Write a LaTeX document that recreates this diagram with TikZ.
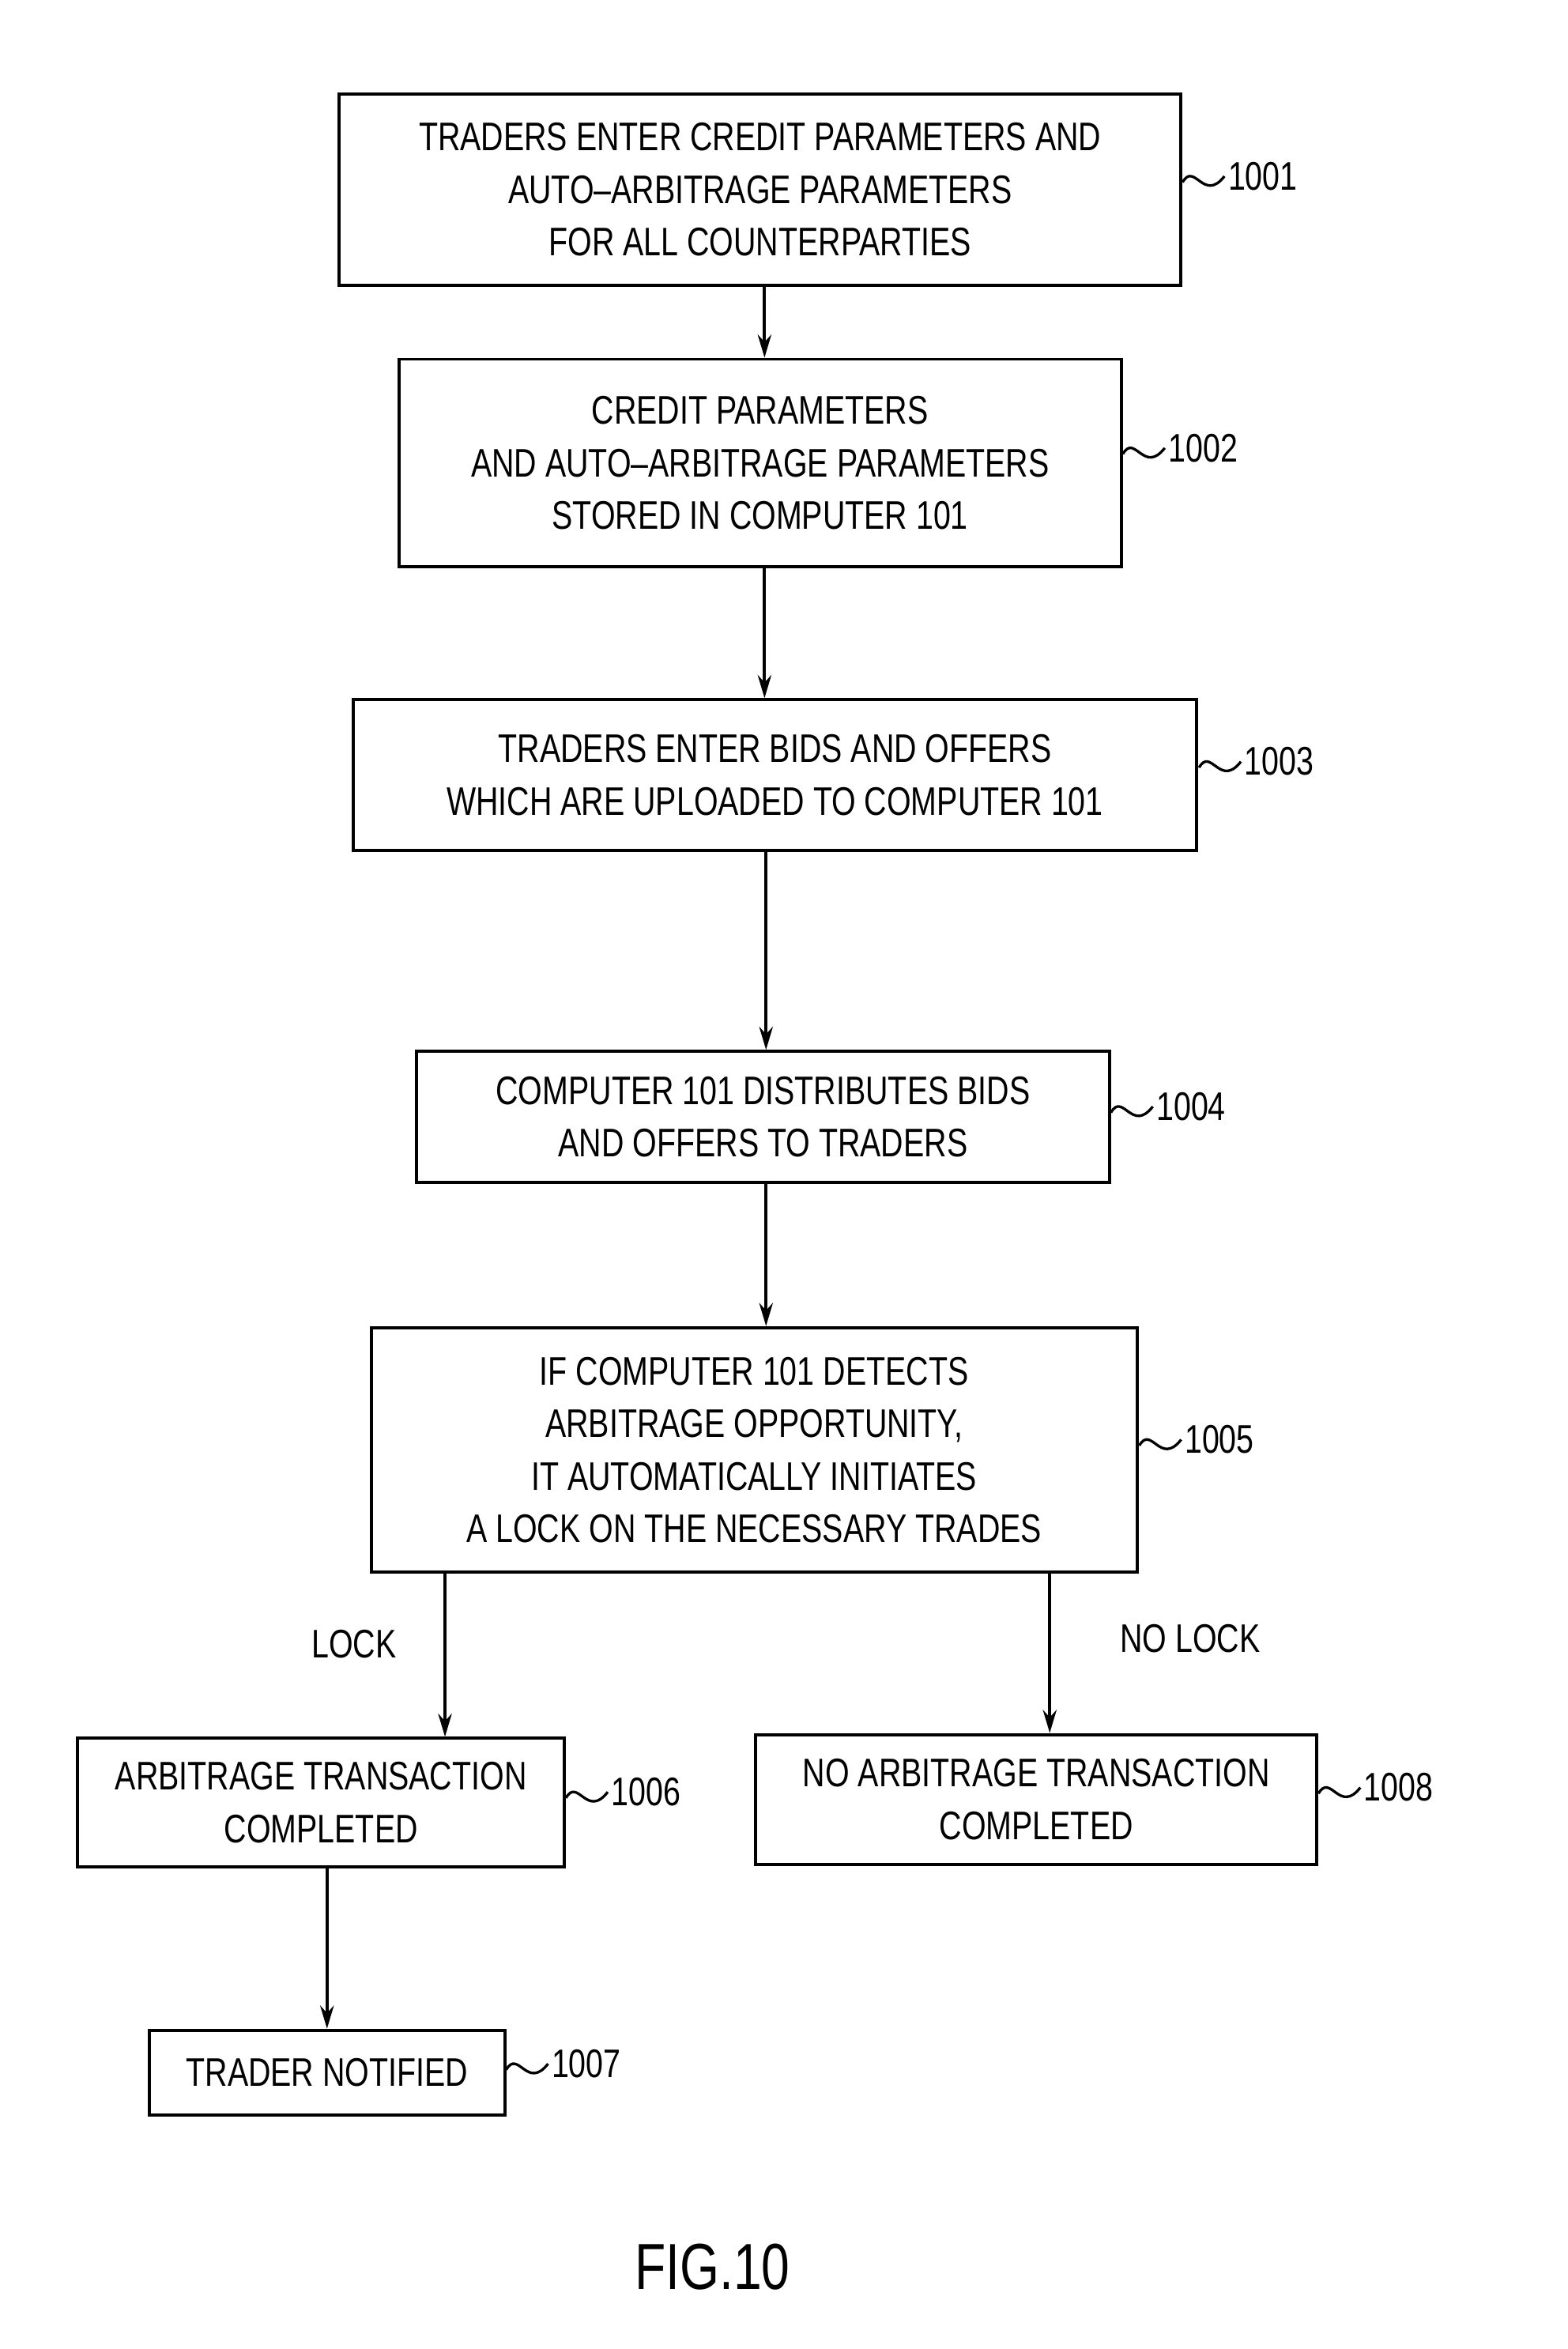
\documentclass[tikz,border=0pt]{standalone}
\usepackage{fontspec}
\setmainfont{Liberation Sans}[FakeStretch=0.78]
\usetikzlibrary{arrows.meta}
\begin{document}
\begin{tikzpicture}[x=0.05cm,y=-0.05cm,
  box/.style={draw,line width=3pt,inner sep=0,align=center,font=\fontsize{38}{50}\selectfont},
  lab/.style={font=\fontsize{38}{44}\selectfont,anchor=west},
  txt/.style={font=\fontsize{38}{44}\selectfont},
  arr/.style={line width=3pt,-{Stealth[length=22pt,width=13pt]}},
  sq/.style={line width=2.5pt}]
\useasboundingbox (0,0) rectangle (1050,1573);
\newcommand{\bx}[6]{\node[box,minimum width=#4*0.05cm-3pt,minimum height=#5*0.05cm-3pt] (#1) at (#2,#3) {#6};}
\bx{b1}{509}{127}{566}{130}{TRADERS ENTER CREDIT PARAMETERS AND\\AUTO--ARBITRAGE PARAMETERS\\FOR ALL COUNTERPARTIES}
\bx{b2}{509}{310}{486}{141}{CREDIT PARAMETERS\\AND AUTO--ARBITRAGE PARAMETERS\\STORED IN COMPUTER 101}
\bx{b3}{519}{519}{567}{103}{TRADERS ENTER BIDS AND OFFERS\\WHICH ARE UPLOADED TO COMPUTER 101}
\bx{b4}{511}{748}{466}{90}{COMPUTER 101 DISTRIBUTES BIDS\\AND OFFERS TO TRADERS}
\bx{b5}{505}{971}{515}{166}{IF COMPUTER 101 DETECTS\\ARBITRAGE OPPORTUNITY,\\IT AUTOMATICALLY INITIATES\\A LOCK ON THE NECESSARY TRADES}
\bx{b6}{215}{1207}{328}{88}{ARBITRAGE TRANSACTION\\COMPLETED}
\bx{b8}{694}{1205}{378}{89}{NO ARBITRAGE TRANSACTION\\COMPLETED}
\bx{b7}{219}{1388}{240}{59}{TRADER NOTIFIED}
\draw[arr] (b1.south -| 512,0) -- (b2.north -| 512,0);
\draw[arr] (b2.south -| 512,0) -- (b3.north -| 512,0);
\draw[arr] (b3.south -| 513,0) -- (b4.north -| 513,0);
\draw[arr] (b4.south -| 513,0) -- (b5.north -| 513,0);
\draw[arr] (b5.south -| 298,0) -- (b6.north -| 298,0);
\draw[arr] (b5.south -| 703,0) -- (b8.north -| 703,0);
\draw[arr] (b6.south -| 219,0) -- (b7.north -| 219,0);
\node[txt] (lk) at (237,1101) {LOCK};
\node[txt] (nlk) at (797,1097) {NO LOCK};
\node[txt,font=\fontsize{62}{70}\selectfont] (fig) at (477,1518) {FIG.10};
\foreach \n/\x/\y/\t in {b1/792/122/1001,b2/752/304/1002,b3/803/514/1003,b4/744/745/1004,b5/763/968/1005,b6/379/1204/1006,b8/883/1201/1008,b7/339/1386/1007}{
  \coordinate (s\t) at (\x,\y);
  \node[lab] (l\t) at (\x+28,\y-4) {\t};
  \draw[sq] (s\t) .. controls (\x+8,\y-14) and (\x+14,\y+14) .. (l\t.west);
}
\end{tikzpicture}
\end{document}
